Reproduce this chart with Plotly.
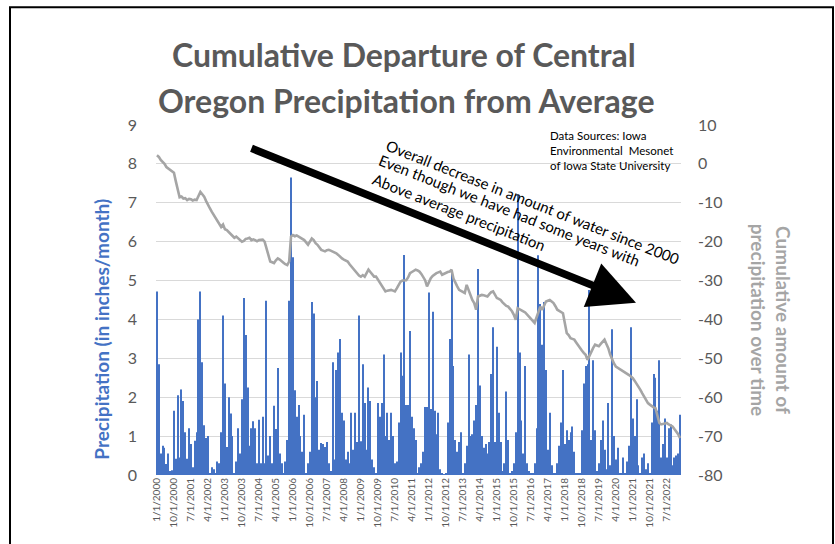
import plotly.graph_objects as go

# ---------------- data ----------------
start_year = 2000
n_months = 278
months = [f"{(i % 12) + 1}/1/{start_year + i // 12}" for i in range(n_months)]
tick_labels = months[::9]
right_ticks = [10, 0, -10, -20, -30, -40, -50, -60, -70, -80]
right_tick_text = ["10", "0", "-10", "-20", "-30", "-40", "-50", "-60", "-70", "-80"]

precip = [
    4.72, 2.85, 0.55, 0.75, 0.70, 0.28, 0.55, 0.10, 0.12, 1.65, 0.42, 2.05,
    0.45, 2.20, 1.90, 1.10, 0.42, 1.20, 0.80, 0.20, 0.88, 1.10, 4.00, 4.72,
    2.90, 1.28, 0.95, 1.00, 0.05, 0.20, 0.15, 0.05, 0.35, 0.30, 1.10, 4.10,
    2.35, 0.72, 2.00, 1.58, 1.00, 0.05, 0.35, 1.20, 0.55, 1.95, 4.55, 3.60,
    2.25, 0.75, 1.20, 1.38, 1.20, 0.30, 1.42, 0.30, 1.50, 0.30, 4.48, 0.50,
    1.00, 0.30, 1.78, 1.18, 2.75, 0.55, 0.30, 0.05, 0.35, 0.90, 4.48, 7.65,
    5.60, 2.18, 1.50, 1.80, 1.00, 0.60, 1.55, 0.05, 0.30, 0.60, 4.45, 4.15,
    2.00, 2.42, 0.65, 0.82, 0.80, 0.72, 0.85, 0.30, 0.10, 2.90, 0.40, 2.70,
    3.15, 3.50, 1.60, 1.40, 0.40, 0.60, 0.30, 1.60, 0.65, 1.60, 0.85, 4.10,
    0.87, 2.85, 1.85, 0.65, 2.25, 1.90, 0.40, 0.20, 0.05, 1.85, 1.50, 1.85,
    3.10, 1.00, 1.60, 0.90, 1.60, 1.00, 0.30, 0.35, 1.35, 3.15, 2.55, 5.66,
    1.80, 1.80, 3.70, 1.50, 1.20, 0.90, 0.05, 0.20, 0.30, 0.60, 1.75, 1.75,
    4.69, 1.70, 4.20, 1.65, 1.05, 1.60, 0.15, 0.05, 0.02, 0.05, 1.35, 3.50,
    5.27, 2.80, 0.90, 0.60, 0.85, 1.10, 0.05, 0.30, 0.75, 3.10, 1.00, 1.05,
    1.40, 1.80, 5.30, 2.30, 1.00, 0.70, 0.80, 0.55, 0.85, 2.60, 3.80, 0.85,
    3.30, 1.60, 0.85, 0.10, 0.30, 2.15, 0.90, 0.05, 0.10, 0.30, 1.10, 7.20,
    3.15, 1.40, 0.55, 2.80, 0.30, 0.10, 0.05, 0.05, 0.30, 1.20, 5.65, 4.40,
    3.35, 4.45, 2.70, 0.65, 1.60, 0.25, 0.05, 0.05, 0.30, 0.75, 1.35, 2.70,
    0.80, 1.15, 0.90, 1.10, 1.25, 0.60, 0.05, 0.05, 0.05, 1.15, 2.35, 2.80,
    2.85, 4.76, 0.90, 2.95, 1.15, 0.10, 0.30, 0.90, 1.40, 0.65, 0.15, 1.85,
    0.25, 3.75, 1.00, 0.40, 0.70, 0.05, 0.05, 0.45, 0.05, 0.35, 0.75, 3.80,
    1.45, 1.00, 1.95, 0.25, 0.05, 0.45, 0.55, 0.15, 0.30, 0.05, 1.35, 2.60,
    2.50, 1.65, 2.95, 0.45, 0.80, 1.45, 0.45, 1.20, 1.30, 0.25, 0.45, 0.50,
    0.55, 1.55,
]

cum_departure = [
    2.2, 1.8, 1.0, 0.5, 0.0, -0.8, -1.2, -1.6, -2.0, -2.3, -4.5, -7.0,
    -8.6, -8.4, -8.9, -8.8, -9.3, -9.0, -9.1, -9.4, -9.2, -9.3, -8.0, -7.2,
    -7.8, -8.4, -9.5, -10.6, -11.4, -12.3, -13.1, -13.8, -14.5, -15.3, -16.2, -15.6,
    -16.8, -17.0, -17.5, -18.2, -18.7, -19.0, -18.7, -19.2, -19.5, -20.0, -19.8, -19.3,
    -19.2, -19.0, -19.6, -19.4, -19.6, -19.9, -19.6, -19.6, -19.5, -20.0, -21.5, -23.0,
    -25.1, -25.3, -25.5, -24.8, -24.3, -24.6, -25.1, -25.4, -25.8, -26.0, -25.1, -18.7,
    -18.3, -18.6, -18.4, -18.7, -18.9, -19.2, -19.6, -20.2, -20.8, -20.0, -19.2, -19.6,
    -20.4, -20.8, -21.5, -22.1, -22.3, -22.5, -22.2, -22.1, -22.3, -22.5, -22.7, -23.0,
    -23.4, -23.9, -24.3, -24.6, -24.9, -25.1, -25.8, -26.4, -26.8, -27.5, -28.3, -28.7,
    -29.0, -28.6, -29.0, -28.2, -27.2, -27.8, -28.5, -29.0, -29.0, -29.8, -30.7, -31.5,
    -32.3, -32.8, -32.6, -32.4, -32.4, -32.6, -32.8, -32.0, -31.2, -30.3, -30.0, -29.9,
    -29.9, -29.2, -28.1, -27.8, -27.5, -27.2, -27.4, -27.7, -28.3, -29.0, -29.9, -31.5,
    -30.2, -29.4, -28.8, -28.4, -28.1, -27.9, -27.7, -28.5, -28.2, -27.9, -27.8, -27.7,
    -27.2, -29.5, -30.7, -31.5, -32.4, -32.6, -33.0, -33.2, -31.1, -32.5, -34.1, -35.0,
    -35.8, -37.5, -34.1, -33.9, -33.7, -33.8, -34.0, -34.1, -33.5, -33.0, -32.8, -33.8,
    -34.5, -34.7, -35.0, -35.6, -36.1, -36.5, -36.7, -37.2, -37.9, -38.8, -40.1, -37.1,
    -37.3, -37.6, -37.9, -38.2, -38.7, -39.2, -39.7, -40.3, -40.9, -39.5, -37.9, -36.7,
    -37.5, -36.2, -35.4, -35.2, -35.0, -35.4, -35.8, -36.6, -37.5, -37.8, -38.0, -38.4,
    -41.0, -43.5, -44.0, -44.8, -45.0, -45.2, -45.9, -46.7, -47.4, -48.0, -48.6, -49.1,
    -50.4, -49.2, -48.2, -47.3, -46.5, -46.7, -46.9, -46.3, -45.7, -45.2, -46.3, -47.4,
    -49.0, -50.4, -51.3, -52.1, -52.4, -52.7, -52.9, -53.2, -53.5, -53.8, -54.3, -54.7,
    -55.1, -55.8, -56.5, -57.2, -58.1, -59.0, -59.8, -60.6, -61.5, -61.9, -62.3, -62.6,
    -62.8, -64.5, -66.6, -67.0, -66.8, -66.6, -66.6, -67.0, -67.3, -67.5, -68.2, -68.8,
    -69.5, -70.5,
]

title_lines = ["Cumulative Departure of Central", "Oregon Precipitation from Average"]
left_title = "Precipitation (in inches/month)"
right_title = "Cumulative amount of<br>precipitation over time"
note_lines = [
    "Overall decrease in amount of water since 2000",
    "Even though we have had some years with",
    "Above average precipitation",
]
source_text = "Data Sources: Iowa<br>Environmental  Mesonet<br>of Iowa State University"

# ---------------- layout helpers (screen coords; page body margin removed) ----------------
W, H = 835, 544
PL, PR, PT, PB = 156, 681, 125, 475.5      # plot area in screen pixels
L, T, R, B = PL, PT, W - PR, H - PB
PW, PH = PR - PL, PB - PT


def px(x):
    return (x - PL) / PW


def py(y):
    return (PB - y) / PH


FONT = "Lato, Calibri, 'Open Sans', sans-serif"
BLUE = "#4472C4"
GREY_LINE = "#A5A5A5"
TXT = "#595959"

fig = go.Figure()
fig.add_trace(go.Bar(
    x=months, y=precip, marker=dict(color=BLUE, line=dict(width=0)),
    name="Precipitation", yaxis="y",
))
fig.add_trace(go.Scatter(
    x=months, y=cum_departure, mode="lines",
    line=dict(color=GREY_LINE, width=2.6), name="Cumulative", yaxis="y2",
))

annotations = [
    dict(text=f"<b>{title_lines[0]}</b>", x=px(404), y=py(54), xref="paper", yref="paper",
         showarrow=False, font=dict(size=32, color=TXT, family=FONT), xanchor="center", yanchor="middle"),
    dict(text=f"<b>{title_lines[1]}</b>", x=px(406), y=py(100), xref="paper", yref="paper",
         showarrow=False, font=dict(size=32, color=TXT, family=FONT), xanchor="center", yanchor="middle"),
    dict(text=f"<b>{left_title}</b>", x=px(102), y=py(330), xref="paper", yref="paper",
         showarrow=False, textangle=-90, font=dict(size=19, color=BLUE, family=FONT),
         xanchor="center", yanchor="middle"),
    dict(text=f"<b>{right_title}</b>", x=px(771), y=py(320), xref="paper", yref="paper",
         showarrow=False, textangle=90, font=dict(size=19, color=GREY_LINE, family=FONT),
         xanchor="center", yanchor="middle"),
    dict(text=source_text, x=px(548), y=py(127), xref="paper", yref="paper", showarrow=False,
         align="left", xanchor="left", yanchor="top", font=dict(size=11.5, color="#000000", family=FONT)),
    # arrow
    dict(text="", x=px(636), y=py(303), xref="paper", yref="paper", showarrow=True,
         ax=250 - 636, ay=148 - 303, axref="pixel", ayref="pixel",
         arrowhead=2, arrowsize=1.25, arrowwidth=7.5, arrowcolor="#000000"),
]
note_centers = [(533, 202), (509, 210), (459, 212)]
for t, (cx, cy) in zip(note_lines, note_centers):
    annotations.append(dict(text=t, x=px(cx), y=py(cy), xref="paper", yref="paper",
                            showarrow=False, textangle=21.5,
                            font=dict(size=15, color="#000000", family=FONT),
                            xanchor="center", yanchor="middle"))

fig.update_layout(
    width=W, height=H,
    margin=dict(l=L, r=R, t=T, b=B, pad=0),
    paper_bgcolor="white", plot_bgcolor="white",
    font=dict(family=FONT, color=TXT),
    showlegend=False, bargap=0.45,
    xaxis=dict(type="category", tickmode="array", tickvals=tick_labels, ticktext=tick_labels,
               tickangle=-90, tickfont=dict(size=10, color=TXT), showgrid=False,
               showline=False, ticks="", zeroline=False),
    yaxis=dict(range=[0, 9], dtick=1, gridcolor="#D9D9D9", gridwidth=1, zeroline=False,
               showline=False, ticks="", tickfont=dict(size=16, color=TXT), ticklabelstandoff=18),
    yaxis2=dict(range=[-80, 10], tickmode="array", tickvals=right_ticks, ticktext=right_tick_text,
                overlaying="y", side="right", showgrid=False,
                zeroline=False, showline=False, ticks="", tickfont=dict(size=16, color=TXT),
                ticklabelstandoff=16),
    annotations=annotations,
    shapes=[dict(type="rect", xref="paper", yref="paper",
                 x0=px(10), x1=px(833), y0=py(560), y1=py(7),
                 line=dict(color="black", width=2), fillcolor="rgba(0,0,0,0)")],
)

fig.write_html(
    "out.html",
    config={"displayModeBar": False},
    post_script="document.body.style.margin='0';document.body.style.overflow='hidden';",
)
